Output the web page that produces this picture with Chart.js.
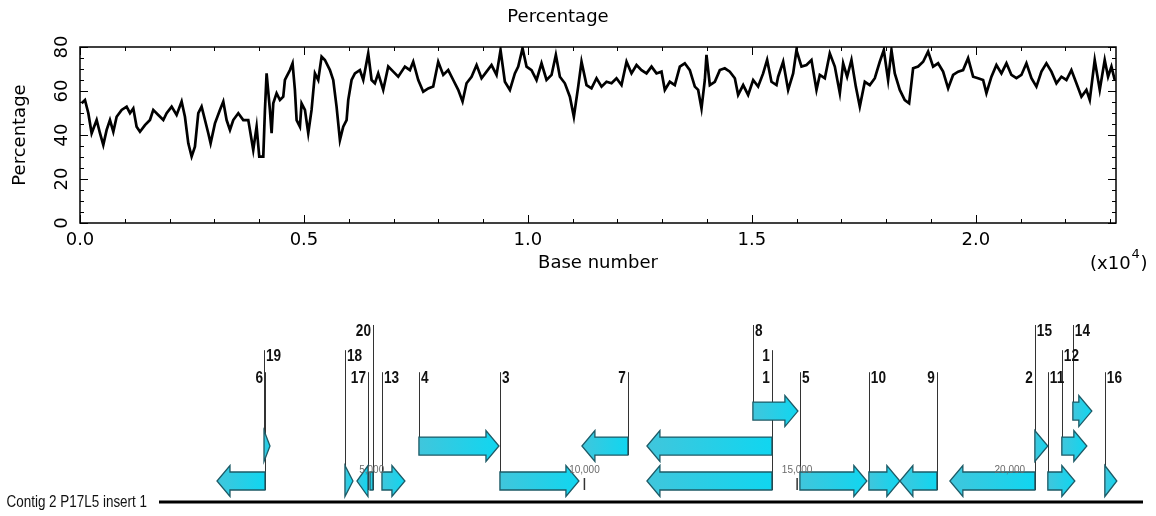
<!DOCTYPE html>
<html>
<head>
<meta charset="utf-8">
<script src="https://cdn.jsdelivr.net/npm/chart.js@4.4.1/dist/chart.umd.min.js"></script>
<style>
    body { margin: 0; background: #fff; }
    canvas { display: block; }
</style>
</head>
<body>
<canvas id="gcChart" width="1156" height="290"></canvas>
<canvas id="mapChart" width="1156" height="226"></canvas>
<script>
// sequence length (bp), shared by the plot and the map
const contigLength = 23130;

// GC percentage along the contig
const baseNumbers = [
    37, 111, 186, 260, 372, 446, 520, 595, 669, 744,
    818, 930, 1041, 1116, 1190, 1264, 1339, 1450, 1562, 1636,
    1748, 1860, 1934, 2046, 2157, 2269, 2343, 2418, 2492, 2566,
    2641, 2715, 2790, 2864, 2916, 3013, 3124, 3199, 3273, 3348,
    3422, 3534, 3645, 3757, 3831, 3868, 3943, 4002, 4092, 4129,
    4166, 4240, 4278, 4315, 4389, 4464, 4538, 4575, 4612, 4687,
    4746, 4798, 4836, 4910, 4947, 5022, 5096, 5170, 5245, 5319,
    5394, 5468, 5580, 5654, 5728, 5803, 5877, 5952, 5989, 6063,
    6138, 6249, 6324, 6435, 6510, 6584, 6658, 6770,
    6882, 6994, 7105, 7254, 7366, 7440, 7552, 7663, 7775, 7886,
    7998, 8110, 8221, 8333, 8444, 8541, 8630, 8742, 8854, 8965,
    9077, 9188, 9300, 9389, 9486, 9598, 9709, 9784, 9880, 9970,
    10081, 10193, 10304, 10416, 10528, 10624, 10714, 10825, 10937, 11026,
    11123, 11197, 11309, 11420, 11532, 11644, 11755, 11867, 11978, 12090,
    12202, 12313, 12425, 12536, 12648, 12760, 12871, 12983, 13057, 13168,
    13280, 13392, 13503, 13615, 13727, 13801, 13876, 13950, 13987, 14062,
    14173, 14285, 14396, 14508, 14620, 14694, 14806, 14917, 15029, 15140,
    15252, 15341, 15438, 15550,
    15587, 15699, 15810, 15922, 15996, 16108, 16220, 16331, 16443, 16517,
    16629, 16740, 16852, 16964, 17038, 17127, 17224, 17321, 17410, 17522,
    17633, 17745, 17856, 17946, 18042, 18117, 18191, 18303, 18414, 18511,
    18600, 18712, 18824, 18935, 19047, 19158, 19270, 19382, 19493, 19605,
    19716, 19828, 19940, 20051, 20163, 20237, 20349, 20460, 20572, 20684,
    20795, 20907, 21018, 21130, 21242, 21353, 21465, 21576, 21688, 21800,
    21911, 22023, 22134, 22246, 22358, 22469, 22544, 22655, 22767, 22878,
    22953, 23028, 23102
];
const percentages = [
    54.4, 55.9, 49.9, 40.8, 46.8, 40.8, 35.5, 42.3, 46.8, 41.5,
    48.3, 51.4, 52.9, 49.9, 52.1, 43.8, 41.5, 44.5, 46.8, 51.4,
    49.1, 46.8, 49.9, 52.9, 49.1, 55.2, 48.3, 36.2, 30.2, 34.7,
    49.9, 52.9, 46.8, 40.8, 36.2, 45.3, 51.4, 55.2, 46.8, 42.3,
    46.8, 49.9, 46.8, 46.8, 37.7, 33.2, 43.8, 30.2, 30.2, 51.4,
    68.0, 51.4, 40.8, 54.4, 59.0, 55.9, 57.4, 65.0, 66.5, 69.5,
    72.6, 60.5, 46.8, 43.8, 54.4, 51.4, 40.8, 51.4, 68.0, 65.0,
    75.6, 74.1, 69.5, 65.0, 52.9, 37.7, 43.8, 46.8, 55.9, 65.0,
    68.0, 69.5, 65.0, 77.1, 65.0, 63.5, 68.0, 60.5,
    71.1, 68.8, 66.5, 71.1, 69.5, 73.3, 65.0, 59.7, 61.2, 62.0,
    73.3, 67.3, 69.5, 65.0, 60.5, 55.2, 63.5, 66.5, 71.8, 65.8,
    68.8, 71.8, 67.3, 78.6, 64.2, 60.5, 68.0, 71.1, 79.4, 71.1,
    69.5, 65.0, 72.6, 65.0, 67.3, 76.4, 66.5, 63.5, 57.4, 48.3,
    62.0, 73.3, 62.7, 61.2, 65.8, 62.0, 64.2, 63.5, 65.8, 62.7,
    73.3, 68.0, 71.8, 69.5, 68.0, 71.1, 68.0, 68.8, 60.5, 64.2,
    62.7, 71.1, 72.6, 69.5, 62.0, 60.5, 52.1, 65.0, 76.4, 62.7,
    64.2, 69.5, 70.3, 68.8, 65.8, 58.2, 62.7, 58.2, 65.0, 62.0,
    68.0, 74.1, 64.2, 62.7,
    66.5, 73.3, 60.5, 68.0, 78.6, 71.1, 71.8, 74.1, 60.5, 67.3,
    65.8, 77.1, 71.1, 59.0, 72.6, 66.5, 74.1, 62.0, 52.9, 64.2,
    62.7, 65.8, 73.3, 78.6, 65.0, 78.6, 68.0, 60.5, 55.9, 54.4,
    70.3, 71.1, 73.3, 77.9, 71.1, 72.6, 68.8, 61.2, 67.3, 68.8,
    69.5, 74.9, 66.5, 65.8, 65.0, 59.0, 66.5, 71.8, 68.0, 72.6,
    67.3, 65.8, 67.3, 72.6, 65.8, 62.0, 68.8, 72.6, 68.8, 63.5,
    66.5, 65.0, 69.5, 63.5, 57.4, 60.5, 55.9, 74.1, 60.5, 74.1,
    66.5, 71.1, 65.0
];
const xTickValues = [0, 5000, 10000, 15000, 20000];
const yTickValues = [0, 20, 40, 60, 80];

// ORF map: label, start, end (bp), strand, track (1 = lowest), label level (1 = lowest)
const geneLabels = ['6', '19', '18', '17', '20', '13', '4', '3', '7', '1', '1', '8', '5', '10', '9', '2', '15', '11', '12', '14', '16'];
const geneStart  = [1363, 2468, 4371, 4653, 4959, 5241, 6110, 8014, 9941, 11469, 11469, 13960, 15065, 16686, 17415, 18590, 20588, 20893, 21222, 21481, 22233];
const geneEnd    = [2491, 2609, 4559, 4912, 5029, 5781, 7991, 9871, 11022, 14407, 14407, 15018, 16639, 17415, 18285, 20588, 20893, 21528, 21810, 21927, 22515];
const geneStrand = [-1, 1, 1, -1, -1, 1, 1, 1, -1, -1, -1, 1, 1, 1, -1, -1, 1, 1, 1, 1, 1];
const geneTrack  = [1, 2, 1, 1, 1, 1, 2, 1, 2, 2, 1, 3, 1, 1, 1, 1, 2, 1, 2, 3, 1];
const labelLevel = [1, 2, 2, 1, 3, 1, 1, 1, 1, 2, 1, 3, 1, 1, 1, 1, 3, 1, 2, 3, 1];
const mapTicks = [5000, 10000, 15000, 20000];
const contigName = 'Contig 2 P17L5 insert 1';

// map drawing style (track units on the hidden y scale)
const trackCenter = [0.6, 1.6, 2.6];
const levelTop = [3.71, 4.34, 5.06];
const BODY = 9, HEAD = 15.5, HEAD_LEN = 13;

Chart.defaults.font.family = "'DejaVu Sans', sans-serif";
Chart.defaults.font.size = 18;
Chart.defaults.color = '#000';

// frame with inward ticks on all four sides, plus the exponent note
const frameTicks = {
    id: 'frameTicks',
    afterDraw(chart) {
        const { ctx, chartArea: a, scales: { x, y } } = chart;
        const seg = (x1, y1, x2, y2) => { ctx.beginPath(); ctx.moveTo(x1, y1); ctx.lineTo(x2, y2); ctx.stroke(); };
        ctx.save();
        ctx.strokeStyle = '#000';
        ctx.lineWidth = 1;
        for (let v = 0; v <= x.max; v += 1000) {
            const px = Math.round(x.getPixelForValue(v)) + 0.5;
            const len = xTickValues.includes(v) ? 8 : 4;
            seg(px, a.bottom, px, a.bottom - len);
            seg(px, a.top, px, a.top + len);
        }
        for (let v = 0; v <= y.max; v += 5) {
            const py = Math.round(y.getPixelForValue(v)) + 0.5;
            const len = yTickValues.includes(v) ? 8 : 4;
            seg(a.left, py, a.left + len, py);
            seg(a.right, py, a.right - len, py);
        }
        ctx.lineWidth = 1.5;
        ctx.strokeRect(a.left, a.top, a.right - a.left, a.bottom - a.top);

        ctx.fillStyle = '#000';
        ctx.textBaseline = 'middle';
        ctx.textAlign = 'left';
        ctx.font = "18px 'DejaVu Sans'";
        ctx.fillText('(x10', 1090, 264);
        const w = ctx.measureText('(x10').width;
        ctx.font = "13px 'DejaVu Sans'";
        ctx.fillText('4', 1090 + w + 1, 255);
        ctx.font = "18px 'DejaVu Sans'";
        ctx.fillText(')', 1090 + w + 10, 264);
        ctx.restore();
    }
};

new Chart(document.getElementById('gcChart'), {
    type: 'line',
    data: {
        datasets: [{
            data: baseNumbers.map((b, i) => ({ x: b, y: percentages[i] })),
            borderColor: '#000',
            borderWidth: 2.7,
            pointRadius: 0,
            tension: 0,
            fill: false
        }]
    },
    options: {
        responsive: false,
        animation: false,
        layout: { padding: { left: 0, right: 40, top: 0, bottom: 16.2 } },
        scales: {
            x: {
                type: 'linear',
                min: 0,
                max: contigLength,
                grid: { display: false, drawTicks: false },
                border: { display: false },
                afterBuildTicks: (scale) => { scale.ticks = xTickValues.map((v) => ({ value: v })); },
                ticks: {
                    padding: 7,
                    minRotation: 0,
                    maxRotation: 0,
                    callback: (v) => (v / 10000).toFixed(1)
                },
                title: { display: true, text: 'Base number', padding: { top: 0, bottom: 0 } },
                afterFit: (scale) => { scale.height = 50.8; }
            },
            y: {
                min: 0,
                max: 80,
                grid: { display: false, drawTicks: false },
                border: { display: false },
                afterBuildTicks: (scale) => { scale.ticks = yTickValues.map((v) => ({ value: v })); },
                ticks: {
                    padding: 6.5,
                    minRotation: 90,
                    maxRotation: 90,
                    crossAlign: 'center'
                },
                title: { display: true, text: 'Percentage', padding: { top: 10, bottom: 20 } },
                afterFit: (scale) => { scale.width = 80; }
            }
        },
        plugins: {
            legend: { display: false },
            tooltip: { enabled: false },
            title: {
                display: true,
                text: 'Percentage',
                font: { size: 18, weight: 'normal' },
                padding: { top: 7, bottom: 18.4 }
            }
        }
    },
    plugins: [frameTicks]
});

function arrowPath(ctx, x1, x2, yc, dir) {
    const hl = Math.min(HEAD_LEN, x2 - x1);
    ctx.beginPath();
    if (x2 - x1 < 5) {
        ctx.rect(x1, yc - BODY, x2 - x1, BODY * 2);
        return;
    }
    if (dir > 0) {
        ctx.moveTo(x1, yc - BODY);
        ctx.lineTo(x2 - hl, yc - BODY);
        ctx.lineTo(x2 - hl, yc - HEAD);
        ctx.lineTo(x2, yc);
        ctx.lineTo(x2 - hl, yc + HEAD);
        ctx.lineTo(x2 - hl, yc + BODY);
        ctx.lineTo(x1, yc + BODY);
    } else {
        ctx.moveTo(x2, yc - BODY);
        ctx.lineTo(x1 + hl, yc - BODY);
        ctx.lineTo(x1 + hl, yc - HEAD);
        ctx.lineTo(x1, yc);
        ctx.lineTo(x1 + hl, yc + HEAD);
        ctx.lineTo(x1 + hl, yc + BODY);
        ctx.lineTo(x2, yc + BODY);
    }
    ctx.closePath();
}

// narrow text: squeeze a regular face horizontally
function narrowText(ctx, text, x, y, squeeze) {
    ctx.save();
    ctx.translate(x, y);
    ctx.scale(squeeze, 1);
    ctx.fillText(text, 0, 0);
    ctx.restore();
}

const geneMap = {
    id: 'geneMap',
    afterDraw(chart) {
        const { ctx, scales: { x, y } } = chart;
        const base = y.getPixelForValue(0);
        ctx.save();

        // label stems
        ctx.strokeStyle = '#333';
        ctx.lineWidth = 1;
        geneLabels.forEach((lab, i) => {
            const sx = Math.round(x.getPixelForValue(geneStrand[i] > 0 ? geneStart[i] : geneEnd[i])) + 0.5;
            const top = y.getPixelForValue(levelTop[labelLevel[i] - 1]);
            const bottom = y.getPixelForValue(trackCenter[geneTrack[i] - 1]) + BODY;
            ctx.beginPath();
            ctx.moveTo(sx, top);
            ctx.lineTo(sx, bottom);
            ctx.stroke();
        });

        // scale ticks on the contig
        ctx.strokeStyle = '#333';
        ctx.lineWidth = 1.5;
        mapTicks.forEach((t) => {
            const px = x.getPixelForValue(t);
            ctx.beginPath();
            ctx.moveTo(px, base - 24);
            ctx.lineTo(px, base - 12);
            ctx.stroke();
        });

        // ORF arrows
        geneLabels.forEach((lab, i) => {
            const x1 = x.getPixelForValue(geneStart[i]);
            const x2 = x.getPixelForValue(geneEnd[i]);
            const yc = y.getPixelForValue(trackCenter[geneTrack[i] - 1]);
            const g = ctx.createLinearGradient(x1, 0, x2, 0);
            g.addColorStop(0, '#40c6dc');
            g.addColorStop(1, '#10d6f0');
            arrowPath(ctx, x1, x2, yc, geneStrand[i]);
            ctx.fillStyle = g;
            ctx.fill();
            ctx.strokeStyle = '#1d5a66';
            ctx.lineWidth = 1.3;
            ctx.stroke();
        });

        // ORF numbers
        ctx.fillStyle = '#111';
        ctx.font = "bold 16px 'Liberation Sans', sans-serif";
        ctx.textBaseline = 'alphabetic';
        geneLabels.forEach((lab, i) => {
            const fwd = geneStrand[i] > 0;
            const sx = x.getPixelForValue(fwd ? geneStart[i] : geneEnd[i]);
            const top = y.getPixelForValue(levelTop[labelLevel[i] - 1]);
            ctx.textAlign = fwd ? 'left' : 'right';
            narrowText(ctx, lab, fwd ? sx + 2 : sx - 2, top + 11, 0.85);
        });

        // scale labels
        ctx.fillStyle = '#6b6b6b';
        ctx.font = "10px 'Liberation Sans', sans-serif";
        ctx.textAlign = 'center';
        mapTicks.forEach((t) => {
            ctx.fillText(t.toLocaleString('en-US'), x.getPixelForValue(t), base - 29);
        });

        // contig line and name
        ctx.strokeStyle = '#000';
        ctx.lineWidth = 3;
        ctx.beginPath();
        ctx.moveTo(x.getPixelForValue(0), base);
        ctx.lineTo(x.getPixelForValue(contigLength), base);
        ctx.stroke();
        ctx.fillStyle = '#111';
        ctx.font = "16px 'Liberation Sans', sans-serif";
        ctx.textAlign = 'right';
        ctx.textBaseline = 'middle';
        narrowText(ctx, contigName, x.getPixelForValue(0) - 12, base + 1, 0.84);
        ctx.restore();
    }
};

new Chart(document.getElementById('mapChart'), {
    type: 'scatter',
    data: { datasets: [] },
    options: {
        responsive: false,
        animation: false,
        layout: { padding: { left: 159, right: 13, top: 0, bottom: 0 } },
        scales: {
            x: { type: 'linear', min: 0, max: contigLength, display: false },
            y: { type: 'linear', min: -0.4, max: 6.06, display: false }
        },
        plugins: { legend: { display: false }, tooltip: { enabled: false } }
    },
    plugins: [geneMap]
});
</script>
</body>
</html>
